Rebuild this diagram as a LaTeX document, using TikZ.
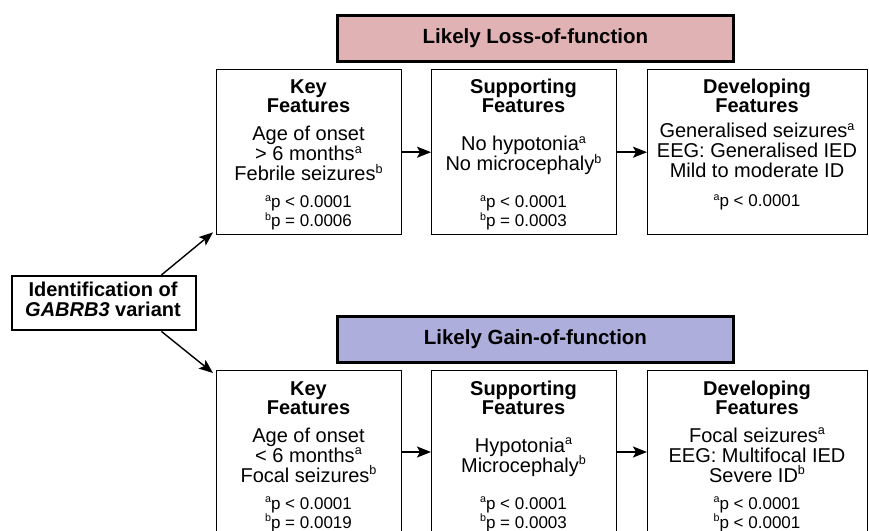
\documentclass[tikz,border=0pt]{standalone}
\usepackage{fontspec}
\setmainfont{Liberation Sans}
\usepackage{graphicx}
\usetikzlibrary{arrows.meta,calc}
\newcommand\sps[1]{\raisebox{0.36em}{\scalebox{0.63}{#1}}}
\definecolor{lofpink}{HTML}{E1B2B4}
\definecolor{gofblue}{HTML}{ADAEDC}
\begin{document}
\begin{tikzpicture}[x=1bp,y=-1bp,
 box/.style={draw, line width=1.4bp, rectangle, inner sep=0pt, anchor=north west},
 hdr/.style={draw, line width=2.8bp, rectangle, inner sep=0pt, anchor=north west, font=\fontsize{20.5bp}{20bp}\selectfont\bfseries},
 ttl/.style={anchor=base, inner sep=0pt, font=\fontsize{20bp}{20bp}\selectfont\bfseries},
 bdy/.style={anchor=base, inner sep=0pt, font=\fontsize{20bp}{20bp}\selectfont},
 pv/.style={anchor=base, inner sep=0pt, font=\fontsize{17bp}{17bp}\selectfont},
 arr/.style={line width=1.4bp, -{Stealth[length=14bp,width=11bp,inset=3bp]}}
]
\clip (0,0) rectangle (869,531);
\fill[white] (0,0) rectangle (869,531);

% headers
\node[hdr, fill=lofpink, minimum width=396bp, minimum height=46bp] (h1) at (336,14) {Likely Loss-of-function};
\node[hdr, fill=gofblue, minimum width=396bp, minimum height=46bp] (h2) at (336,315) {Likely Gain-of-function};

% left box
\node[box, line width=2.4bp, minimum width=184bp, minimum height=54bp] (lb) at (11,275) {};
\node[ttl] (lbt1) at (103,297) {Identification of};
\node[ttl] (lbt2) at (103,317) {\textit{GABRB3}\ \upshape variant};

% top row boxes
\node[box, minimum width=185bp, minimum height=165bp] (k1) at (216,69) {};
\node[box, minimum width=185bp, minimum height=165bp] (s1) at (431,69) {};
\node[box, minimum width=220bp, minimum height=165bp] (d1) at (647,69) {};
% bottom row boxes
\node[box, minimum width=185bp, minimum height=180bp] (k2) at (216,370) {};
\node[box, minimum width=185bp, minimum height=180bp] (s2) at (431,370) {};
\node[box, minimum width=220bp, minimum height=180bp] (d2) at (647,370) {};

% top row text
\node[ttl] (k1a) at (308.5,94) {Key};
\node[ttl] (k1b) at (308.5,113) {Features};
\node[bdy] (k1c) at (308.5,141) {Age of onset};
\node[bdy] (k1d) at (308.5,161) {> 6 months\sps{a}};
\node[bdy] (k1e) at (308.5,181) {Febrile seizures\sps{b}};
\node[pv] (k1f) at (308.5,208) {\sps{a}p < 0.0001};
\node[pv] (k1g) at (308.5,227) {\sps{b}p = 0.0006};

\node[ttl] (s1a) at (523.5,94) {Supporting};
\node[ttl] (s1b) at (523.5,113) {Features};
\node[bdy] (s1c) at (523.5,151) {No hypotonia\sps{a}};
\node[bdy] (s1d) at (523.5,171) {No microcephaly\sps{b}};
\node[pv] (s1f) at (523.5,208) {\sps{a}p < 0.0001};
\node[pv] (s1g) at (523.5,227) {\sps{b}p = 0.0003};

\node[ttl] (d1a) at (757,94) {Developing};
\node[ttl] (d1b) at (757,113) {Features};
\node[bdy] (d1c) at (757,138) {Generalised seizures\sps{a}};
\node[bdy] (d1d) at (757,158) {EEG: Generalised IED};
\node[bdy] (d1e) at (757,178) {Mild to moderate ID};
\node[pv] (d1f) at (757,207) {\sps{a}p < 0.0001};

% bottom row text
\node[ttl] (k2a) at (308.5,395) {Key};
\node[ttl] (k2b) at (308.5,414) {Features};
\node[bdy] (k2c) at (308.5,442) {Age of onset};
\node[bdy] (k2d) at (308.5,462) {< 6 months\sps{a}};
\node[bdy] (k2e) at (308.5,482) {Focal seizures\sps{b}};
\node[pv] (k2f) at (308.5,509) {\sps{a}p < 0.0001};
\node[pv] (k2g) at (308.5,528) {\sps{b}p = 0.0019};

\node[ttl] (s2a) at (523.5,395) {Supporting};
\node[ttl] (s2b) at (523.5,414) {Features};
\node[bdy] (s2c) at (523.5,452) {Hypotonia\sps{a}};
\node[bdy] (s2d) at (523.5,472) {Microcephaly\sps{b}};
\node[pv] (s2f) at (523.5,509) {\sps{a}p < 0.0001};
\node[pv] (s2g) at (523.5,528) {\sps{b}p = 0.0003};

\node[ttl] (d2a) at (757,395) {Developing};
\node[ttl] (d2b) at (757,414) {Features};
\node[bdy] (d2c) at (757,442) {Focal seizures\sps{a}};
\node[bdy] (d2d) at (757,462) {EEG: Multifocal IED};
\node[bdy] (d2e) at (757,482) {Severe ID\sps{b}};
\node[pv] (d2f) at (757,509) {\sps{a}p < 0.0001};
\node[pv] (d2g) at (757,528) {\sps{b}p < 0.0001};

% connectors
\draw[arr] (k1.east) -- (s1.west);
\draw[arr] (s1.east) -- (d1.west);
\draw[arr] ($(k2.north east)+(0,82)$) -- ($(s2.north west)+(0,82)$);
\draw[arr] ($(s2.north east)+(0,82)$) -- ($(d2.north west)+(0,82)$);
\coordinate (lbu) at ($(lb.north east)+(-36,0)$);
\coordinate (lbd) at ($(lb.south east)+(-36,0)$);
\draw[arr] (lbu) -- ($(k1.south west)+(-3,-3)$);
\draw[arr] (lbd) -- ($(k2.north west)+(-3,3)$);
\end{tikzpicture}
\end{document}
